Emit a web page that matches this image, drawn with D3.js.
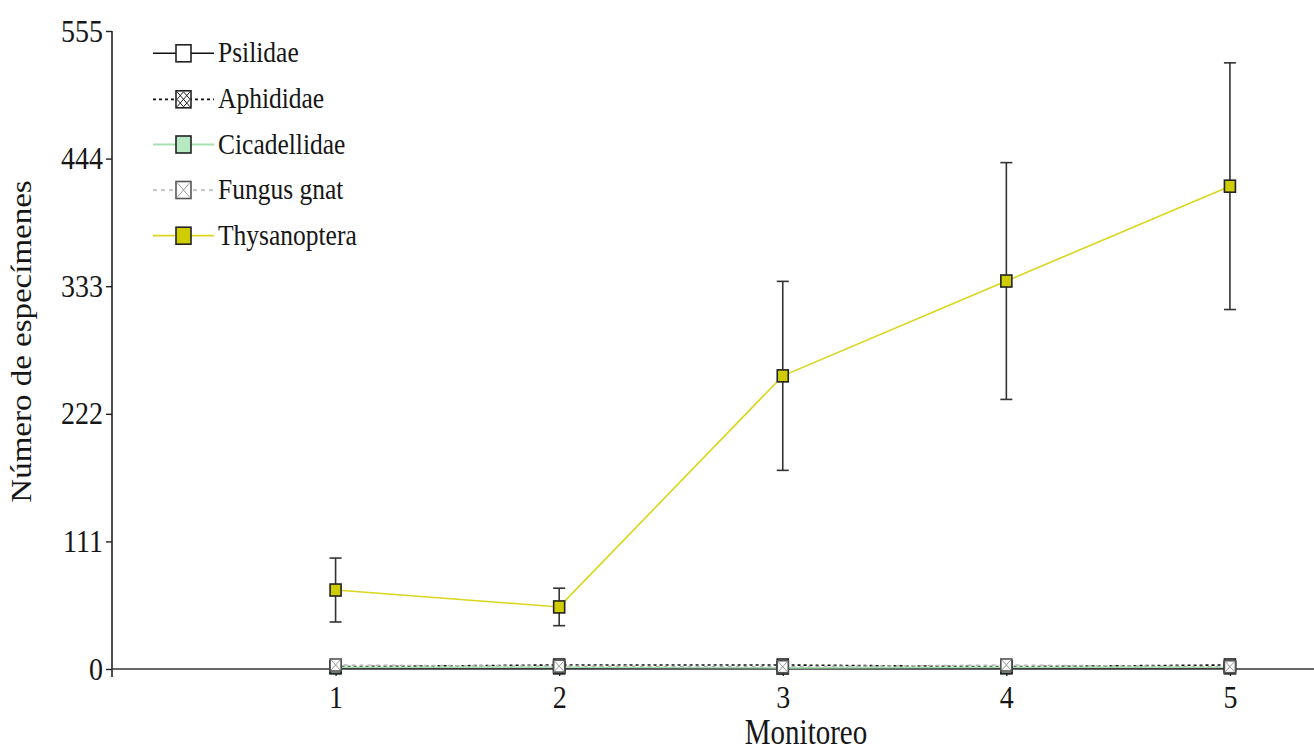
<!DOCTYPE html>
<html>
<head>
<meta charset="utf-8">
<script src="https://cdn.jsdelivr.net/npm/d3@7"></script>
<style>
html,body{margin:0;padding:0;background:#fff;}
svg{display:block;}
</style>
</head>
<body>
<div id="chart"></div>
<script>
const monitoreo = [1, 2, 3, 4, 5];
const yTicks = [0, 111, 222, 333, 444, 555];
const psilidae = [1, 1, 1, 1, 1];
const aphididae = [2, 3.5, 3.5, 2, 3.5];
const cicadellidae = [1.5, 1.5, 1, 1.5, 1.5];
const fungusGnat = [3.5, 2.5, 2, 3.5, 2];
const thysanoptera = [68.7, 54, 255, 337.5, 420];
const thysanopteraErr = [27.8, 16.3, 82.2, 103, 107.3];
const seriesNames = ["Psilidae", "Aphididae", "Cicadellidae", "Fungus gnat", "Thysanoptera"];

const W = 1314, H = 752;
const FONT = "'Liberation Serif','Times New Roman',serif";
const TXT = "#161616";
const SY = 1.12;

const svg = d3.select("#chart").append("svg").attr("width", W).attr("height", H);
svg.append("rect").attr("width", W).attr("height", H).attr("fill", "#fff");

const x = d3.scaleLinear().domain([0, 5.376]).range([112, 1314]);
const y = d3.scaleLinear().domain([0, 555]).range([669, 31]);

const styles = [
  {name: seriesNames[0], data: psilidae, stroke: "#111", width: 1.4, dash: null, fill: "#fff", mstroke: "#222", mark: "plain"},
  {name: seriesNames[1], data: aphididae, stroke: "#111", width: 1.6, dash: "3,3", fill: "#fff", mstroke: "#222", mark: "hatch"},
  {name: seriesNames[2], data: cicadellidae, stroke: "#a6e0b2", width: 1.6, dash: null, fill: "#b6e8c2", mstroke: "#222", mark: "plain"},
  {name: seriesNames[3], data: fungusGnat, stroke: "#b4b4b4", width: 1.4, dash: "4,4", fill: "#fff", mstroke: "#555", mark: "xgray"},
  {name: seriesNames[4], data: thysanoptera, stroke: "#d9d61c", width: 1.6, dash: null, fill: "#cfcc00", mstroke: "#222", mark: "plain"}
];

function drawMarker(g, cx, cy, w, h, s) {
  const m = g.append("g");
  m.append("rect").attr("x", cx - w / 2).attr("y", cy - h / 2).attr("width", w).attr("height", h)
    .attr("fill", s.fill).attr("stroke", s.mstroke).attr("stroke-width", 1.6);
  if (s.mark === "hatch" || s.mark === "xgray") {
    const c = s.mark === "hatch" ? "#222" : "#999";
    const x0 = cx - w / 2 + 1, x1 = cx + w / 2 - 1, y0 = cy - h / 2 + 1, y1 = cy + h / 2 - 1;
    m.append("path").attr("d", `M${x0},${y0}L${x1},${y1}M${x1},${y0}L${x0},${y1}`)
      .attr("stroke", c).attr("stroke-width", 1).attr("fill", "none");
    if (s.mark === "hatch") {
      m.append("path").attr("d", `M${cx},${y0}L${x1},${cy}L${cx},${y1}L${x0},${cy}Z`)
        .attr("stroke", c).attr("stroke-width", 1).attr("fill", "none");
    }
  }
}

// axes
const yAxis = d3.axisLeft(y).tickValues(yTicks).tickSize(6).tickPadding(3).tickSizeOuter(0);
const gy = svg.append("g").attr("transform", "translate(112,0)").call(yAxis);
gy.select(".domain").remove();
gy.append("line").attr("x1", 0).attr("x2", 0).attr("y1", y(555)).attr("y2", 677)
  .attr("stroke", "#222").attr("stroke-width", 1.6);
gy.selectAll(".tick line").attr("stroke", "#222").attr("stroke-width", 1.4);
gy.selectAll(".tick text").attr("font-family", FONT).attr("font-size", 28).attr("fill", TXT)
  .attr("transform", `scale(1,${SY})`);

const xAxis = d3.axisBottom(x).tickValues(monitoreo).tickFormat(d3.format("d")).tickSize(7).tickPadding(8).tickSizeOuter(0);
const gx = svg.append("g").attr("transform", "translate(0,669)").call(xAxis);
gx.select(".domain").remove();
gx.append("line").attr("x1", 112).attr("x2", 1314).attr("y1", 0).attr("y2", 0)
  .attr("stroke", "#333").attr("stroke-width", 1.6);
gx.selectAll(".tick line").attr("stroke", "#222").attr("stroke-width", 1.4);
gx.selectAll(".tick text").attr("font-family", FONT).attr("font-size", 28).attr("fill", TXT)
  .attr("transform", `scale(1,${SY})`);

// axis titles
svg.append("text").attr("transform", "translate(806,744) scale(1,1.2)")
  .attr("text-anchor", "middle").attr("font-family", FONT).attr("font-size", 29).attr("fill", TXT)
  .text("Monitoreo");
svg.append("text").attr("transform", "translate(31,341.5) scale(1,1.1) rotate(-90)")
  .attr("text-anchor", "middle").attr("font-family", FONT).attr("font-size", 30).attr("fill", TXT)
  .text("Número de especímenes");

// series lines
const line = d3.line().x((d, i) => x(monitoreo[i])).y(d => y(d));
const plot = svg.append("g");
styles.forEach(s => {
  plot.append("path").datum(s.data).attr("d", line).attr("fill", "none")
    .attr("stroke", s.stroke).attr("stroke-width", s.width)
    .attr("stroke-dasharray", s.dash);
});

// error bars (Thysanoptera)
const eb = svg.append("g");
thysanoptera.forEach((v, i) => {
  const cx = x(monitoreo[i]);
  const top = y(v + thysanopteraErr[i]), bot = y(v - thysanopteraErr[i]);
  eb.append("line").attr("x1", cx).attr("x2", cx).attr("y1", top).attr("y2", bot)
    .attr("stroke", "#333").attr("stroke-width", 1.6);
  [top, bot].forEach(yy => eb.append("line").attr("x1", cx - 6).attr("x2", cx + 6).attr("y1", yy).attr("y2", yy)
    .attr("stroke", "#333").attr("stroke-width", 1.6));
});

// markers
const mk = svg.append("g");
styles.forEach(s => {
  s.data.forEach((v, i) => drawMarker(mk, x(monitoreo[i]), y(v), 11, 12, s));
});

// legend
const legY = [53.3, 99.3, 144.5, 190, 235.7];
const lg = svg.append("g");
styles.forEach((s, i) => {
  const yy = legY[i];
  lg.append("line").attr("x1", 153).attr("x2", 214).attr("y1", yy).attr("y2", yy)
    .attr("stroke", s.stroke).attr("stroke-width", s.width + 0.2).attr("stroke-dasharray", s.dash);
  drawMarker(lg, 183.5, yy, 15, 17, s);
  lg.append("text").attr("transform", `translate(218,${yy + 9}) scale(1,${SY})`)
    .attr("font-family", FONT).attr("font-size", 25.5).attr("fill", TXT).text(s.name);
});
</script>
</body>
</html>
